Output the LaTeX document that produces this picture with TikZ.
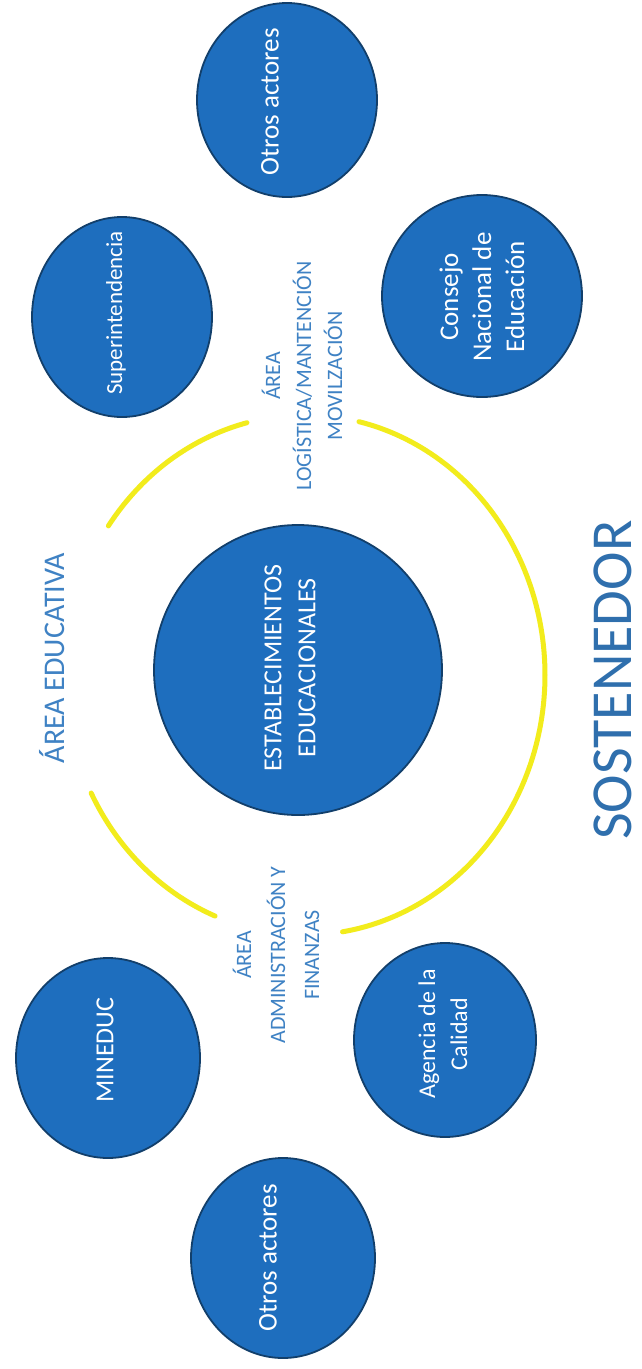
\documentclass[tikz,border=0pt]{standalone}
\usepackage{fontspec}
\setmainfont{Carlito}
\usetikzlibrary{shapes.geometric}
\definecolor{cfill}{HTML}{1E6EBE}
\definecolor{cdraw}{HTML}{123F6B}
\definecolor{alab}{HTML}{3F82C4}
\definecolor{sost}{HTML}{2F6FAD}
\definecolor{ringy}{HTML}{F2EC1C}
\begin{document}
\begin{tikzpicture}[x=1pt,y=-1pt,
  circ/.style={ellipse, draw=cdraw, line width=1.8pt, fill=cfill, inner sep=0pt},
  ctext/.style={text=white, rotate=90, align=center, inner sep=0pt},
  alabel/.style={text=alab, rotate=90, align=center, inner sep=0pt},
  ring/.style={draw=ringy, line width=5pt, line cap=round}]
\useasboundingbox (0,0) rectangle (641,1369);
\fill[white] (0,0) rectangle (641,1369);

% yellow ring segments
\draw[ring] plot[domain=104:145, samples=40] ({305+240*cos(\x)},{675-260*sin(\x)});
\draw[ring] plot[domain=207:248, samples=40] ({305+240*cos(\x)},{675-260*sin(\x)});
\draw[ring] plot[domain=-81:77, samples=120] ({305+240*cos(\x)},{675-260*sin(\x)});

% circles
\node[circ, minimum width=288pt, minimum height=290pt] (est) at (298,670) {};
\node[circ, minimum width=180pt, minimum height=200pt] (sup) at (122,317) {};
\node[circ, minimum width=180pt, minimum height=194pt] (otr1) at (287,100) {};
\node[circ, minimum width=200pt, minimum height=202pt] (cne) at (482,296) {};
\node[circ, minimum width=184pt, minimum height=200pt] (min) at (108,1058) {};
\node[circ, minimum width=184pt, minimum height=200pt] (otr2) at (283,1258) {};
\node[circ, minimum width=182pt, minimum height=194pt] (age) at (445,1040) {};

% circle texts
\node[ctext, font={\fontsize{26}{34}\selectfont}] (testt) at (290,668) {ESTABLECIMIENTOS\\EDUCACIONALES};
\node[ctext, font={\fontsize{23}{30}\selectfont}] (tsup) at (116,313) {Superintendencia};
\node[ctext, font={\fontsize{27}{32}\selectfont}] (totr1) at (270,102) {Otros actores};
\node[ctext, font={\fontsize{27}{33}\selectfont}] (tcne) at (482,297) {Consejo\\Nacional de\\Educación};
\node[ctext, font={\fontsize{26}{32}\selectfont}] (tmin) at (105,1050) {MINEDUC};
\node[ctext, font={\fontsize{27}{32}\selectfont}] (totr2) at (268,1258) {Otros actores};
\node[ctext, font={\fontsize{24}{32}\selectfont}] (tage) at (443,1034) {Agencia de la\\Calidad};

% area labels
\node[alabel, font={\fontsize{30}{36}\selectfont}] (aedu) at (52,658) {ÁREA EDUCATIVA};
\node[alabel, font={\fontsize{22}{31}\selectfont}] (alog) at (302,376) {ÁREA\\LOGÍSTICA/MANTENCIÓN\\MOVILZACIÓN};
\node[alabel, font={\fontsize{22}{34}\selectfont}] (aadm) at (276,955) {ÁREA\\ADMINISTRACIÓN Y\\FINANZAS};

% title
\node[text=sost, rotate=90, inner sep=0pt, text depth=0pt, anchor=base,
      font={\fontsize{58}{68}\selectfont}] (sost) at (631,680) {SOSTENEDOR};
\end{tikzpicture}
\end{document}
